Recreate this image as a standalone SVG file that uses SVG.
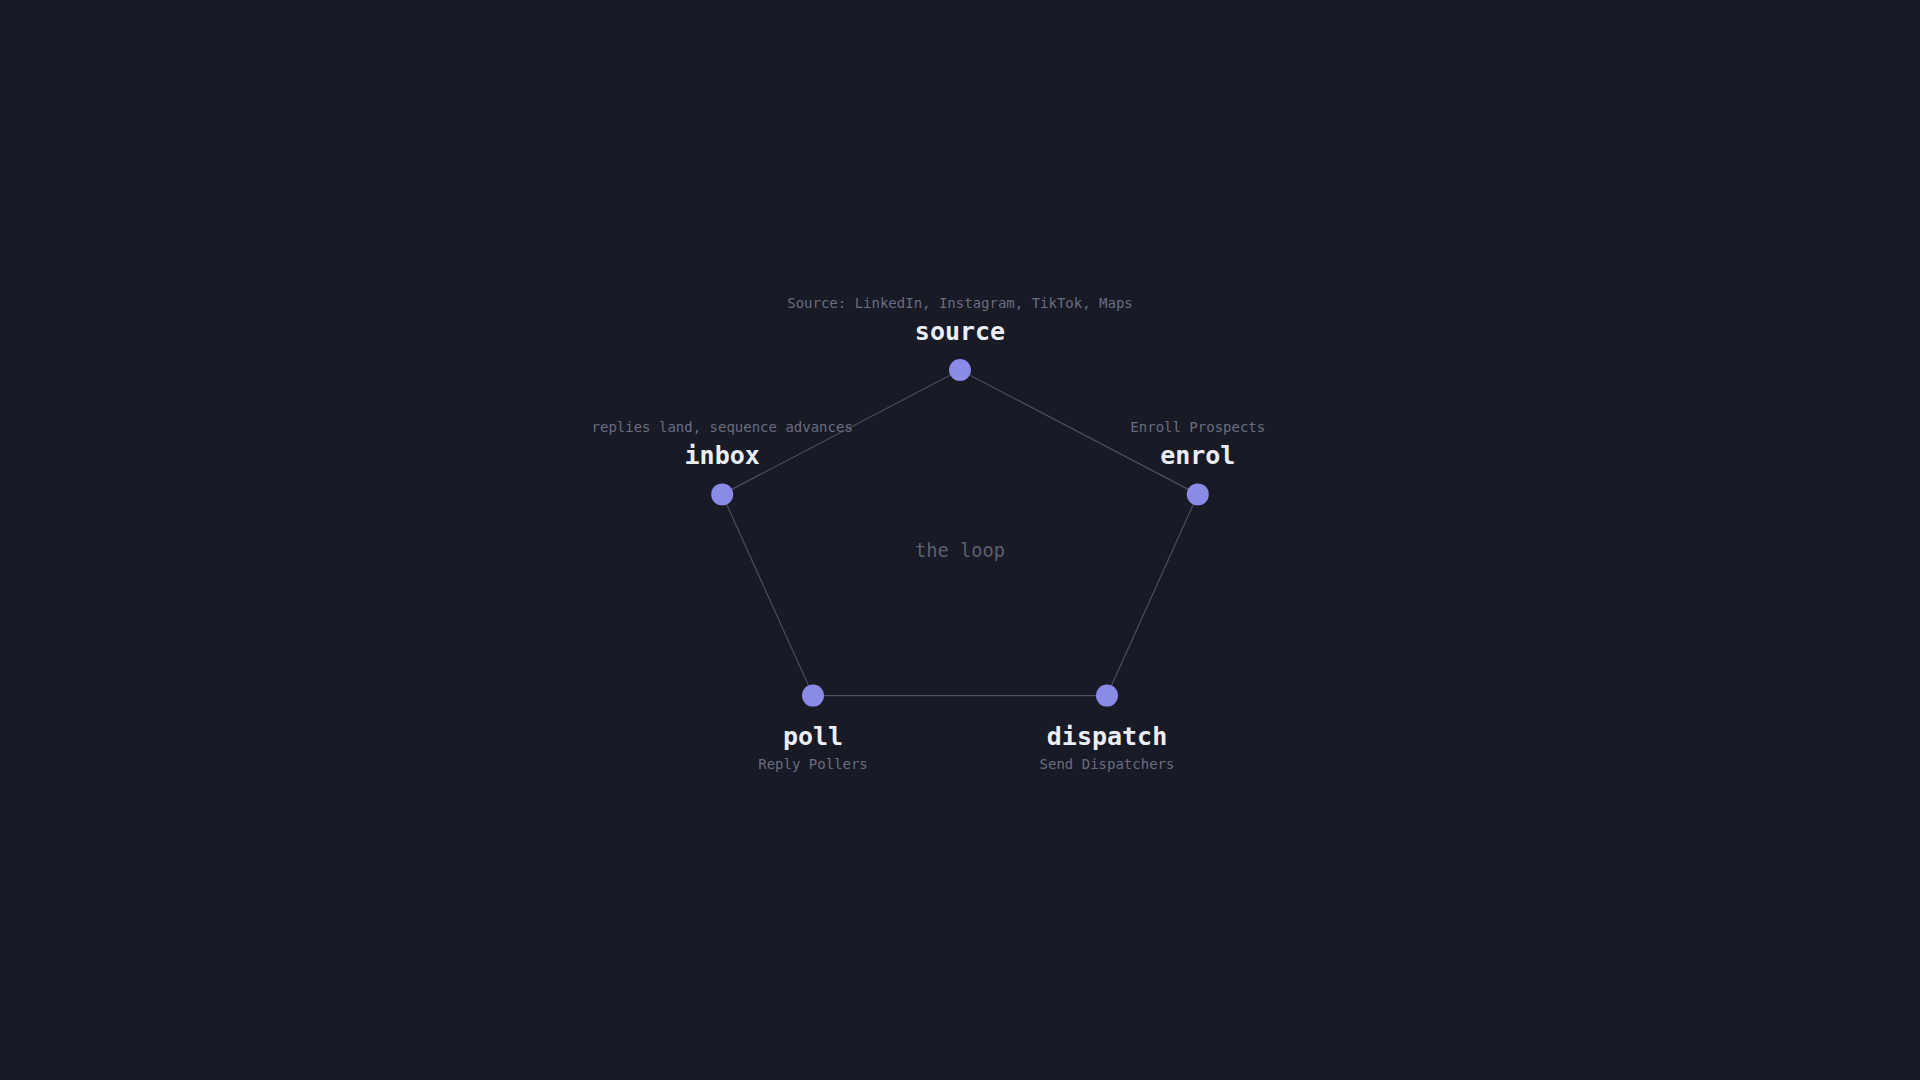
<svg xmlns="http://www.w3.org/2000/svg" width="1920" height="1080" viewBox="0 0 1920 1080">
<style>
.bg{fill:#181a26}
.edge{stroke:#4b4e60;stroke-width:1.2;fill:none}
.dot{fill:#8a8be6}
.title{font-family:"DejaVu Sans Mono","Liberation Mono",monospace;font-weight:bold;font-size:25px;fill:#eceef5;text-anchor:middle}
.cap{font-family:"DejaVu Sans Mono","Liberation Mono",monospace;font-size:14px;fill:#6a6d80;text-anchor:middle}
.center{font-family:"DejaVu Sans Mono","Liberation Mono",monospace;font-size:18.7px;fill:#5c5f72;text-anchor:middle}
</style>
<rect class="bg" x="0" y="0" width="1920" height="1080"/>
<g id="connectors">
<line class="edge" x1="960" y1="370" x2="1197.8" y2="494.4"/>
<line class="edge" x1="1197.8" y1="494.4" x2="1107" y2="695.6"/>
<line class="edge" x1="1107" y1="695.6" x2="813" y2="695.6"/>
<line class="edge" x1="813" y1="695.6" x2="722.2" y2="494.4"/>
<line class="edge" x1="722.2" y1="494.4" x2="960" y2="370"/>
</g>
<text class="center" x="960" y="557">the loop</text>
<g id="source">
<circle class="dot" cx="960" cy="370" r="11"/>
<text class="title" x="960" y="340">source</text>
<text class="cap" x="960" y="307.5">Source: LinkedIn, Instagram, TikTok, Maps</text>
</g>
<g id="enrol">
<circle class="dot" cx="1197.8" cy="494.4" r="11"/>
<text class="title" x="1197.8" y="464">enrol</text>
<text class="cap" x="1197.8" y="431.5">Enroll Prospects</text>
</g>
<g id="dispatch">
<circle class="dot" cx="1107" cy="695.6" r="11"/>
<text class="title" x="1107" y="745">dispatch</text>
<text class="cap" x="1107" y="768.5">Send Dispatchers</text>
</g>
<g id="poll">
<circle class="dot" cx="813" cy="695.6" r="11"/>
<text class="title" x="813" y="745">poll</text>
<text class="cap" x="813" y="768.5">Reply Pollers</text>
</g>
<g id="inbox">
<circle class="dot" cx="722.2" cy="494.4" r="11"/>
<text class="title" x="722.2" y="464">inbox</text>
<text class="cap" x="722.2" y="431.5">replies land, sequence advances</text>
</g>
</svg>
